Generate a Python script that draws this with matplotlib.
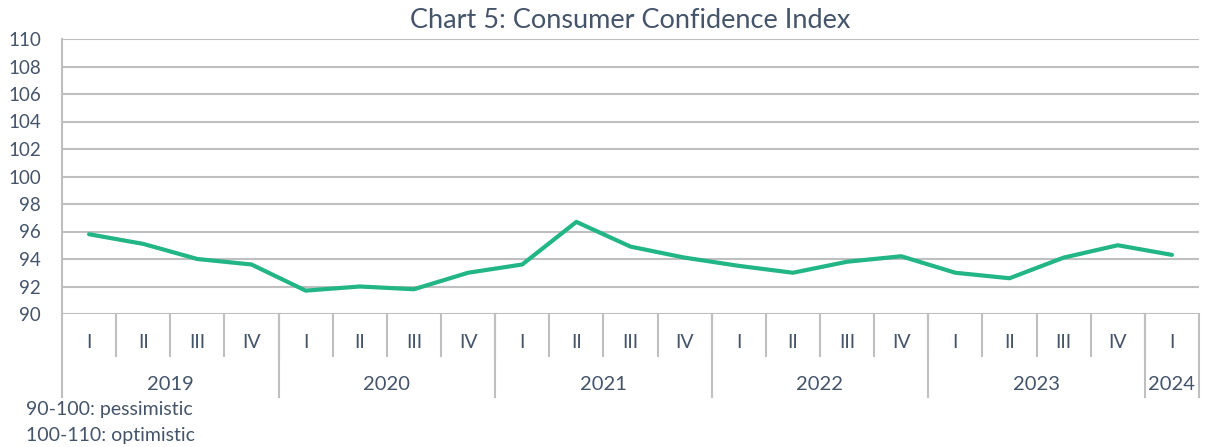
import matplotlib
matplotlib.use('Agg')
import matplotlib.pyplot as plt

# quarterly consumer confidence index, 2019 Q1 - 2024 Q1
quarters = ['I', 'II', 'III', 'IV'] * 5 + ['I']
years = ['2019', '2020', '2021', '2022', '2023', '2024']
quarters_per_year = [4, 4, 4, 4, 4, 1]
cci = [95.8, 95.1, 94.0, 93.6,
       91.7, 92.0, 91.8, 93.0,
       93.6, 96.7, 94.9, 94.1,
       93.5, 93.0, 93.8, 94.2,
       93.0, 92.6, 94.1, 95.0,
       94.3]

text_col = '#44546A'
grid_col = '#BFBFBF'
line_col = '#22B585'
plt.rcParams['font.family'] = ['Lato', 'DejaVu Sans']

fig = plt.figure(figsize=(12.05, 4.47), dpi=100)
W, H = 1205, 447
left, right, top, bottom = 62, 1199, 39, 314
ax = fig.add_axes([left / W, 1 - bottom / H, (right - left) / W, (bottom - top) / H])

x = list(range(len(cci)))
ax.plot(x, cci, color=line_col, linewidth=3, solid_capstyle='round', zorder=3)

ax.set_xlim(-0.5, len(cci) - 0.5)
ax.set_ylim(90, 110)
ax.set_yticks(range(90, 111, 2))
ax.tick_params(axis='y', length=0, labelsize=13.5, labelcolor=text_col, pad=15)
ax.set_xticks([])
ax.yaxis.grid(True, color=grid_col, linewidth=1.5)
ax.set_axisbelow(True)
for s in ['top', 'right', 'bottom']:
    ax.spines[s].set_visible(False)
ax.spines['left'].set_color(grid_col)
ax.spines['left'].set_linewidth(1.5)

tr = ax.get_xaxis_transform()
q_low = -(356 - bottom) / (bottom - top)
y_low = -(397 - bottom) / (bottom - top)
q_lab = -(342 - bottom) / (bottom - top)
y_lab = -(385 - bottom) / (bottom - top)

# quarter labels and separators
for i, q in enumerate(quarters):
    ax.text(i, q_lab, q, transform=tr, ha='center', va='center',
            fontsize=14, color=text_col)
    if i > 0:
        ax.plot([i - 0.5, i - 0.5], [0, q_low], transform=tr, color=grid_col,
                linewidth=1.5, clip_on=False)

# year labels and separators
start = 0
bounds = [-0.5]
for yr, n in zip(years, quarters_per_year):
    ax.text(start + (n - 1) / 2, y_lab, yr, transform=tr, ha='center', va='center',
            fontsize=14.5, color=text_col)
    start += n
    bounds.append(start - 0.5)
for b in bounds:
    ax.plot([b, b], [0, y_low], transform=tr, color=grid_col,
            linewidth=1.5, clip_on=False)

fig.text(0.5 * (left + right) / W, 1 - 20 / H, 'Chart 5: Consumer Confidence Index',
         ha='center', va='center', fontsize=19.5, color=text_col)
fig.text(26 / W, 1 - 410 / H, '90-100: pessimistic', ha='left', va='center',
         fontsize=14, color=text_col)
fig.text(26 / W, 1 - 435 / H, '100-110: optimistic', ha='left', va='center',
         fontsize=14, color=text_col)

fig.savefig('out.png', dpi=100)
